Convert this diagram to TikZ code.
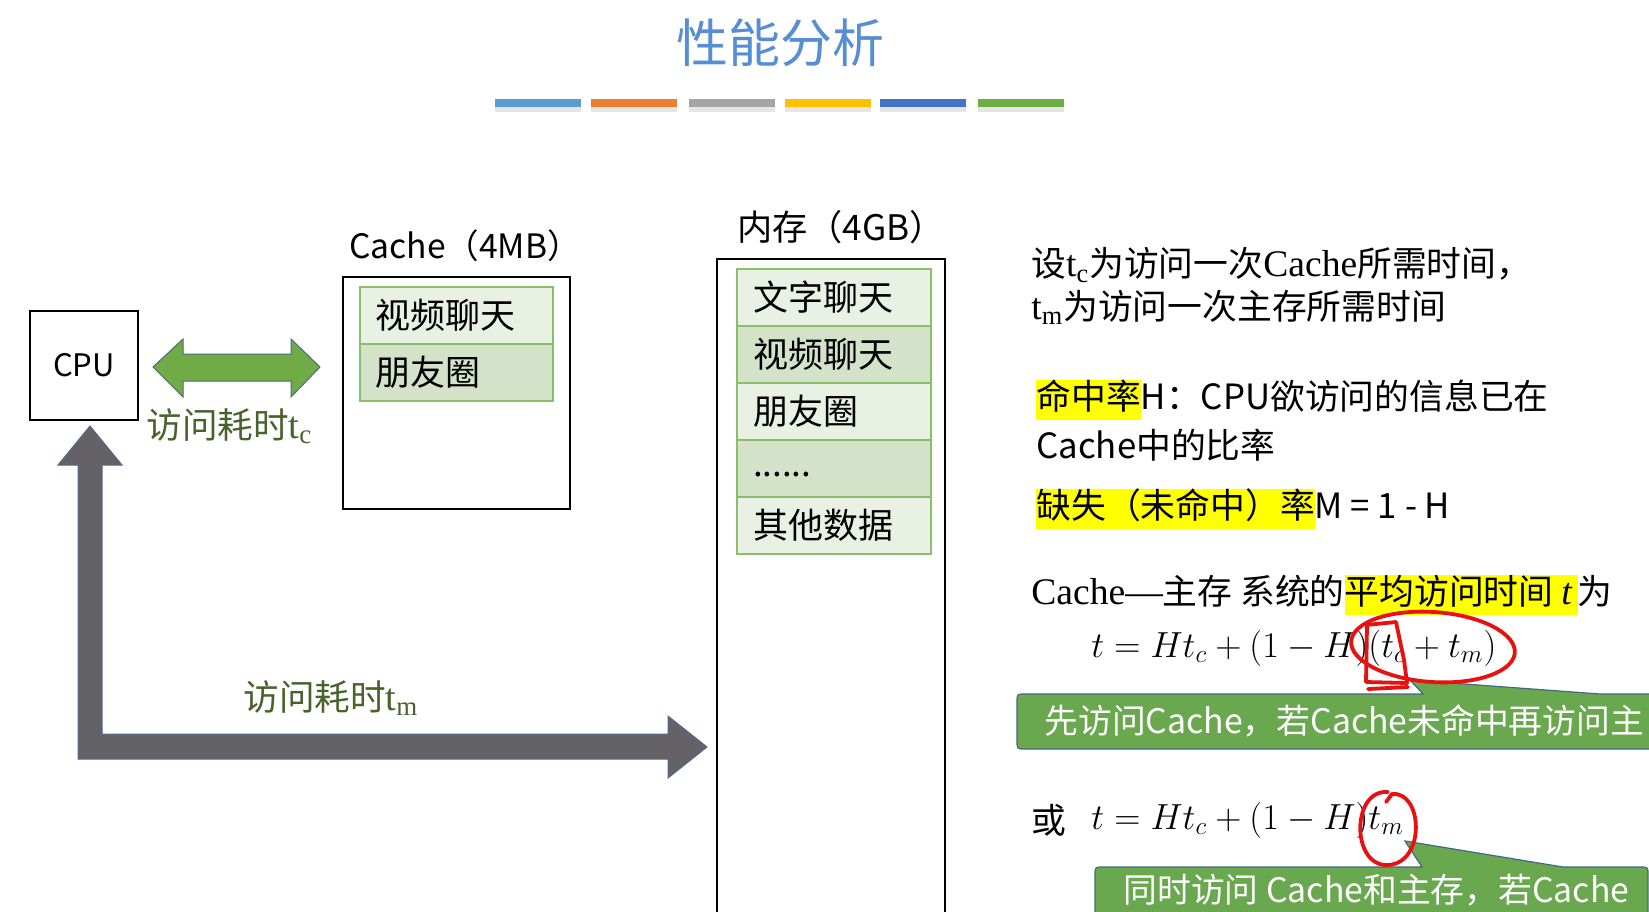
\documentclass[tikz,border=0pt]{standalone}
\usepackage{graphicx}
\usepackage{fontspec}
\setmainfont{Noto Sans CJK SC}
\newfontfamily\ser[Scale=1.08]{Liberation Serif}
\definecolor{titleblue}{RGB}{85,142,213}
\definecolor{barA}{RGB}{91,155,213}
\definecolor{barB}{RGB}{237,125,49}
\definecolor{barC}{RGB}{165,165,165}
\definecolor{barD}{RGB}{255,192,0}
\definecolor{barE}{RGB}{68,114,196}
\definecolor{barF}{RGB}{112,173,71}
\definecolor{arrgreen}{RGB}{112,171,70}
\definecolor{arrgreenb}{RGB}{70,110,120}
\definecolor{lblgreen}{RGB}{72,98,44}
\definecolor{rowlightc}{RGB}{233,240,228}
\definecolor{rowdarkc}{RGB}{212,226,202}
\definecolor{rowborder}{RGB}{138,190,105}
\definecolor{arrgray}{RGB}{100,98,103}
\definecolor{arrgrayb}{RGB}{80,105,140}
\definecolor{hlyellow}{RGB}{255,255,0}
\definecolor{cofill}{RGB}{106,168,79}
\definecolor{coborder}{RGB}{65,105,130}
\definecolor{penred}{RGB}{232,16,16}
\newcommand{\hlite}[1]{{\setlength{\fboxsep}{0pt}\colorbox{hlyellow}{\rule[-0.3em]{0pt}{1.14em}#1}}}
\newcommand{\fml}[1]{\scalebox{1.05}{$#1$}}
\begin{document}
\begin{tikzpicture}[x=0.5pt,y=-0.5pt,
  box/.style={draw=black, line width=0.8pt, fill=white, inner sep=0pt},
  hdr/.style={inner sep=0pt, font=\fontsize{16.8}{19}\selectfont},
  rowbox/.style={draw=rowborder, line width=1pt, minimum height=28.5pt, align=left, inner ysep=0pt, font=\fontsize{17.5}{20}\selectfont},
  rowlight/.style={rowbox, fill=rowlightc},
  rowdark/.style={rowbox, fill=rowdarkc},
  lbl/.style={inner sep=0pt, text=lblgreen, font=\fontsize{17.8}{20}\selectfont},
  txt/.style={inner sep=0pt, anchor=west, font=\fontsize{17.4}{20}\selectfont},
  mathtxt/.style={inner sep=0pt, anchor=west, font=\fontsize{17.28}{20}\selectfont},
  cotext/.style={inner sep=0pt, anchor=west, text=white, font=\fontsize{16.9}{20}\selectfont},
  callout/.style={fill=cofill, draw=coborder, line width=0.6pt},
  pen/.style={draw=penred, line width=1.9pt, line cap=round, line join=round}]
\clip (0,0) rectangle (1649,911);
\fill[white] (0,0) rectangle (1649,911);

% title
\node[inner sep=0pt, text=titleblue, font=\fontsize{26}{30}\selectfont] (title) at (780,43) {性能分析};
\foreach \x/\c in {495/barA,591/barB,689/barC,785/barD,880/barE,978/barF}{
  \fill[black!10] (\x,107) rectangle ++(86,5);
  \fill[\c] (\x,99) rectangle ++(86,8);
}

% CPU
\node[box, minimum width=54pt, minimum height=54.5pt, font=\fontsize{15.5}{18}\selectfont] (cpu) at (84,365.5) {CPU};

% Cache
\node[hdr] (cachelbl) at (465,246) {Cache（4MB）};
\node[box, line width=1pt, minimum width=113.5pt, minimum height=116pt] (cache) at (456.5,393) {};
\node[rowlight, text width=81.5pt, inner xsep=7.5pt] (c1) at (456.5,315.5) {视频聊天};
\node[rowdark, text width=81.5pt, inner xsep=7.5pt] (c2) at (456.5,372.5) {朋友圈};

% Memory
\node[hdr, font=\fontsize{17.6}{20}\selectfont] (memlbl) at (841,227) {内存（4GB）};
\node[box, minimum width=114pt, minimum height=340pt, anchor=north west] (mem) at (716,258) {};
\node[rowlight, text width=81pt, inner xsep=8pt] (m1) at (834,297.5) {文字聊天};
\node[rowdark, text width=81pt, inner xsep=8pt] (m2) at (834,354.5) {视频聊天};
\node[rowlight, text width=81pt, inner xsep=8pt] (m3) at (834,411.5) {朋友圈};
\node[rowdark, text width=81pt, inner xsep=8pt] (m4) at (834,468.5) {\raisebox{-8pt}{......}};
\node[rowlight, text width=81pt, inner xsep=8pt] (m5) at (834,525.5) {其他数据};

% green double arrow
\draw[fill=arrgreen, draw=arrgreenb, line width=0.5pt, line join=miter]
  (153,367) -- (183,339) -- (183,354) -- (291,354) -- (291,339) -- (320,367)
  -- (291,397) -- (291,381) -- (183,381) -- (183,397) -- cycle;
\node[lbl, anchor=west] (ltc) at (146,426) {访问耗时{\ser t\textsubscript{c}}};

% gray L arrow
\draw[fill=arrgray, draw=arrgrayb, line width=0.5pt]
  (90,426) -- (122,465) -- (102,465) -- (102,734) -- (668,734) -- (668,716)
  -- (707,747) -- (668,778) -- (668,759) -- (78,759) -- (78,465) -- (58,465) -- cycle;
\node[lbl, anchor=west] (ltm) at (243,698) {访问耗时{\ser t\textsubscript{m}}};

% right-hand text
\node[txt] (l1) at (1031,265) {设{\ser t\textsubscript{c}}为访问一次{\ser Cache}所需时间，};
\node[txt] (l2) at (1031,307) {{\ser t\textsubscript{m}}为访问一次主存所需时间};
\node[txt] (l3) at (1036,400) {\hlite{命中率}H：CPU欲访问的信息已在};
\node[txt] (l4) at (1036,445) {Cache中的比率};
\node[txt] (l5) at (1036,509) {\hlite{缺失（未命中）率}M = 1 - H};
\node[txt] (l6) at (1031,595) {{\ser Cache—}主存 系统的\hlite{平均访问时间 {\ser\itshape t}\,}为};
\node[mathtxt] (f1) at (1091,648) {\fml{t = Ht_c + (1-H)(t_c + t_m)}};
\node[txt] (orw) at (1031,820) {或};
\node[mathtxt] (f2) at (1091,820) {\fml{t = Ht_c + (1-H)t_m}};

% callout 1
\draw[callout] (1025,694) -- (1423,694) -- (1410,680) -- (1600,694) -- (1720,694)
  -- (1720,749) -- (1025,749) .. controls (1017,749) .. (1017,741)
  -- (1017,702) .. controls (1017,694) .. (1025,694) -- cycle;
\node[cotext] (co1) at (1044,721) {先访问Cache，若Cache未命中再访问主};

% callout 2
\draw[callout] (1103,867) -- (1422,867) -- (1405,841) -- (1563,867) -- (1640,867)
  .. controls (1648,867) .. (1648,875) -- (1648,960) -- (1095,960)
  -- (1095,875) .. controls (1095,867) .. (1103,867) -- cycle;
\node[cotext] (co2) at (1123,890) {同时访问 Cache和主存，若Cache};

% red pen annotations
\draw[pen, rotate around={-4:(1433,647)}] (1433,647) ellipse [x radius=82, y radius=35];
\draw[pen] (1366,625) -- (1396,622) -- (1404,660) -- (1407,683) -- (1366,682) -- (1367,625);
\draw[pen] (1368,689) -- (1408,687);
\draw[pen] (1388,792) .. controls (1351,789) and (1351,867) .. (1388,865)
  .. controls (1426,863) and (1423,791) .. (1392,794) -- (1386,802);
\end{tikzpicture}
\end{document}
